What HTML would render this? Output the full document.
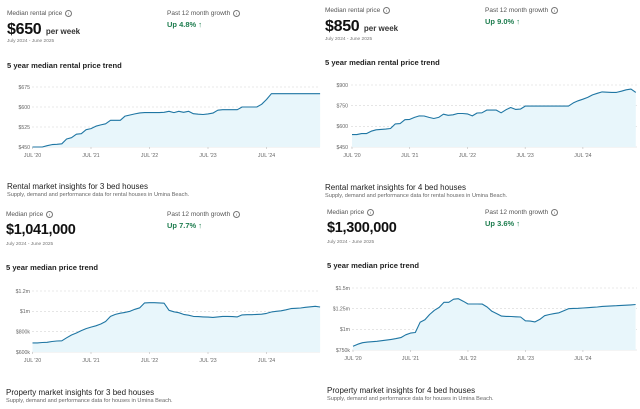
<!DOCTYPE html>
<html><head><meta charset="utf-8"><style>
body{margin:0;width:640px;height:409px;background:#fff;font-family:"Liberation Sans",sans-serif;overflow:hidden;position:relative;color:#222}
.t{position:absolute;white-space:nowrap;line-height:1}
.lab{font-size:6.5px;color:#555}
.big{font-size:16px;font-weight:bold;color:#111;letter-spacing:-0.3px}
.bigp{font-size:14.5px;font-weight:bold;color:#111;letter-spacing:-0.3px}
.pw{font-size:8px;font-weight:bold;color:#333}
.dt{font-size:4.8px;color:#777}
.gr{font-size:7.5px;font-weight:bold;color:#1e7d4f}
.ti{font-size:7.6px;font-weight:bold;color:#222}
.ins{font-size:8px;color:#222}
.sub{font-size:5.6px;color:#666}
.i{display:inline-block;width:5px;height:5px;border:0.6px solid #777;border-radius:50%;font-size:4px;text-align:center;line-height:5px;margin-left:3px;vertical-align:middle}
svg{position:absolute;left:0;top:0}
</style></head><body>
<!-- Panel 1 -->
<div class="t lab" style="left:7px;top:10px">Median rental price<span class="i">i</span></div>
<div class="t" style="left:7px;top:22px"><span class="big">$650</span> <span class="pw">per week</span></div>
<div class="t dt" style="left:7px;top:40px">July 2024 - June 2025</div>
<div class="t lab" style="left:167px;top:10px">Past 12 month growth<span class="i">i</span></div>
<div class="t gr" style="left:167px;top:21px">Up 4.8% ↑</div>
<div class="t ti" style="left:7px;top:62px">5 year median rental price trend</div>
<div class="t ins" style="left:7px;top:183px">Rental market insights for 3 bed houses</div>
<div class="t sub" style="left:7px;top:193px">Supply, demand and performance data for rental houses in Umina Beach.</div>
<!-- Panel 2 -->
<div class="t lab" style="left:325px;top:7px">Median rental price<span class="i">i</span></div>
<div class="t" style="left:325px;top:19px"><span class="big">$850</span> <span class="pw">per week</span></div>
<div class="t dt" style="left:325px;top:38px">July 2024 - June 2025</div>
<div class="t lab" style="left:485px;top:7px">Past 12 month growth<span class="i">i</span></div>
<div class="t gr" style="left:485px;top:18px">Up 9.0% ↑</div>
<div class="t ti" style="left:325px;top:59px">5 year median rental price trend</div>
<div class="t ins" style="left:325px;top:184px">Rental market insights for 4 bed houses</div>
<div class="t sub" style="left:325px;top:194px">Supply, demand and performance data for rental houses in Umina Beach.</div>
<!-- Panel 3 -->
<div class="t lab" style="left:6px;top:211px">Median price<span class="i">i</span></div>
<div class="t bigp" style="left:6px;top:223px">$1,041,000</div>
<div class="t dt" style="left:6px;top:243px">July 2024 - June 2025</div>
<div class="t lab" style="left:167px;top:211px">Past 12 month growth<span class="i">i</span></div>
<div class="t gr" style="left:167px;top:222px">Up 7.7% ↑</div>
<div class="t ti" style="left:6px;top:264px">5 year median price trend</div>
<div class="t ins" style="left:6px;top:389px">Property market insights for 3 bed houses</div>
<div class="t sub" style="left:6px;top:399px">Supply, demand and performance data for houses in Umina Beach.</div>
<!-- Panel 4 -->
<div class="t lab" style="left:327px;top:209px">Median price<span class="i">i</span></div>
<div class="t bigp" style="left:327px;top:221px">$1,300,000</div>
<div class="t dt" style="left:327px;top:241px">July 2024 - June 2025</div>
<div class="t lab" style="left:485px;top:209px">Past 12 month growth<span class="i">i</span></div>
<div class="t gr" style="left:485px;top:220px">Up 3.6% ↑</div>
<div class="t ti" style="left:327px;top:262px">5 year median price trend</div>
<div class="t ins" style="left:327px;top:387px">Property market insights for 4 bed houses</div>
<div class="t sub" style="left:327px;top:397px">Supply, demand and performance data for houses in Umina Beach.</div>

<svg id="s" width="640" height="409"></svg>
<script>
const xTickLabels=["JUL '20","JUL '21","JUL '22","JUL '23","JUL '24"];
const rent3Ticks=[450,525,600,675];
const rent3TickLabels=["$450","$525","$600","$675"];
const rent3=[450,450,450,455,459,460,462,480,485,498,500,515,519,528,533,537,550,550,550,566,570,574,578,579,579,579,579,580,584,579,584,580,584,575,573,572,574,577,588,590,590,590,590,600,600,600,600,610,628,650,650,650,650,650,650,650,650,650,650,650];
const rent4Ticks=[450,600,750,900];
const rent4TickLabels=["$450","$600","$750","$900"];
const rent4=[540,540,547,547,565,575,578,580,584,618,620,648,650,665,676,675,665,657,665,688,680,684,693,693,690,676,697,698,718,718,718,698,720,737,723,725,747,747,747,747,747,747,747,747,747,747,770,785,797,810,828,840,850,848,846,846,855,865,870,846];
const price3Ticks=[600,800,1000,1200];
const price3TickLabels=["$600k","$800k","$1m","$1.2m"];
const price3=[690,690,693,695,703,708,710,740,767,787,810,830,845,858,875,900,950,970,982,990,1000,1020,1035,1083,1085,1085,1083,1080,1010,995,987,970,962,950,948,945,943,940,945,950,950,948,945,965,967,967,970,972,980,993,1000,1005,1015,1027,1030,1033,1040,1045,1050,1043];
const price4Ticks=[750,1000,1250,1500];
const price4TickLabels=["$750k","$1m","$1.25m","$1.5m"];
const price4=[795,820,838,845,850,855,862,870,878,888,900,934,955,962,1085,1115,1180,1230,1265,1327,1327,1365,1371,1340,1307,1307,1307,1305,1270,1218,1190,1160,1157,1155,1152,1149,1103,1100,1090,1120,1165,1180,1190,1200,1225,1250,1253,1255,1258,1262,1266,1270,1278,1280,1283,1286,1289,1292,1296,1300];

const NS="http://www.w3.org/2000/svg";
const svg=document.getElementById('s');
function mk(tag,attrs,parent){const e=document.createElementNS(NS,tag);for(const k in attrs)e.setAttribute(k,attrs[k]);(parent||svg).appendChild(e);return e;}
function chart(name,data,ticks,tickLabels,g){
  const grp=mk('g',{});
  
  
  const min=ticks[0],max=ticks[ticks.length-1];
  const X=m=>g.x0+m*g.ppm;
  const Y=v=>g.yb-(v-min)/(max-min)*(g.yb-g.yt);
  ticks.forEach((t,i)=>{
    const y=Y(t);
    const ln=mk('line',{x1:g.gl,x2:g.gr,y1:y,y2:y,stroke:'#d5d5d5','stroke-width':0.6,'stroke-dasharray':i===0?'':'2,2'},grp);
    
    
    const tx=mk('text',{x:g.lx,y:y+1.8,'text-anchor':'end','font-size':5.2,fill:'#666','font-family':'Liberation Sans, sans-serif'},grp);
    tx.textContent=tickLabels[i];
    
    
  });
  xTickLabels.forEach((l,i)=>{
    const x=X(i*12);
    mk('line',{x1:x,x2:x,y1:g.yb,y2:g.yb+2,stroke:'#bbb','stroke-width':0.6},grp);
    const tx=mk('text',{x:x,y:g.xly,'text-anchor':'middle','font-size':5.2,fill:'#666','font-family':'Liberation Sans, sans-serif'},grp);
    tx.textContent=l;
    
    
  });
  let d='';
  data.forEach((v,m)=>{d+=(m?'L':'M')+X(m).toFixed(1)+','+Y(v).toFixed(1);});
  const area=mk('path',{d:d+'L'+X(data.length-1)+','+g.yb+'L'+X(0)+','+g.yb+'Z',fill:'#e8f6fb',stroke:'none'},grp);
  
  
  const line=mk('path',{d:d,fill:'none',stroke:'#1f76a3','stroke-width':1.1,'stroke-linejoin':'round'},grp);
  
  
}
chart('rent3',rent3,rent3Ticks,rent3TickLabels,{x0:32.5,ppm:4.875,yt:87,yb:147,gl:32,gr:320,lx:30,xly:157});
chart('rent4',rent4,rent4Ticks,rent4TickLabels,{x0:352,ppm:4.81,yt:85,yb:147,gl:351,gr:637,lx:348,xly:157});
chart('price3',price3,price3Ticks,price3TickLabels,{x0:32.5,ppm:4.875,yt:291,yb:352,gl:32,gr:320,lx:30,xly:362});
chart('price4',price4,price4Ticks,price4TickLabels,{x0:353,ppm:4.79,yt:288,yb:350,gl:352,gr:637,lx:350,xly:360});
</script>
</body></html>
